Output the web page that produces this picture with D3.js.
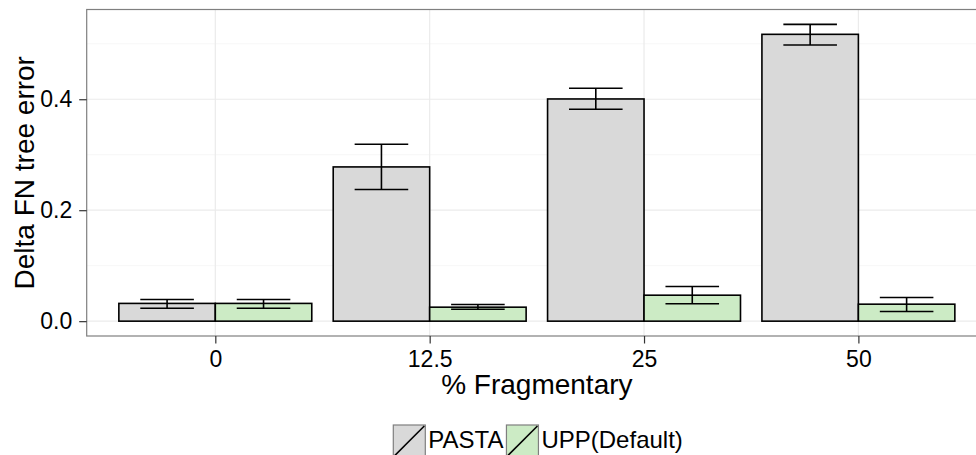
<!DOCTYPE html>
<html>
<head>
<meta charset="utf-8">
<script src="https://cdn.jsdelivr.net/npm/d3@7"></script>
<style>
  html, body { margin: 0; padding: 0; background: #fff; }
  svg { display: block; font-family: "Liberation Sans", Arial, Helvetica, sans-serif; }
</style>
</head>
<body>
<svg id="chart" width="976" height="455"></svg>
<script>
// Fragmentary-sequence levels on the x axis
const categories = ["0", "12.5", "25", "50"];
const seriesNames = ["PASTA", "UPP(Default)"];

// Mean delta FN tree error and error-bar limits per method
const pastaMean = [0.032, 0.278, 0.4005, 0.517];
const pastaLow  = [0.0234, 0.2374, 0.382, 0.4977];
const pastaHigh = [0.039, 0.319, 0.4198, 0.535];

const uppMean = [0.032, 0.0252, 0.0468, 0.0306];
const uppLow  = [0.0234, 0.0216, 0.0313, 0.0174];
const uppHigh = [0.039, 0.030, 0.0624, 0.0426];

const yTicks = [0, 0.2, 0.4];
const yMinorTicks = [0.1, 0.3, 0.5];

const fills = { "PASTA": "#d9d9d9", "UPP(Default)": "#ccebc5" };

const svg = d3.select("#chart");

const panel = { left: 86.7, right: 987, top: 9.5, bottom: 336 };

// Continuous y range with 5% expansion around [0, max upper limit]
const yMax = d3.max(pastaHigh.concat(uppHigh));
const yExp = yMax * 0.05;
const y = d3.scaleLinear()
  .domain([-yExp, yMax + yExp])
  .range([panel.bottom, panel.top]);

// Discrete x positions with 0.6-step padding on each side
const x = d3.scalePoint()
  .domain(categories)
  .range([panel.left, panel.right])
  .padding(0.6);
const step = x.step();

// Dodge within each category: total width 0.9 step
const xDodge = d3.scaleBand()
  .domain(seriesNames)
  .range([-0.45 * step, 0.45 * step]);

const rows = [];
categories.forEach((c, i) => {
  rows.push({ cat: c, series: "PASTA", mean: pastaMean[i], lo: pastaLow[i], hi: pastaHigh[i] });
  rows.push({ cat: c, series: "UPP(Default)", mean: uppMean[i], lo: uppLow[i], hi: uppHigh[i] });
});

// Panel background
svg.append("rect")
  .attr("x", panel.left).attr("y", panel.top)
  .attr("width", panel.right - panel.left)
  .attr("height", panel.bottom - panel.top)
  .attr("fill", "#fff");

// Grid lines
const grid = svg.append("g");
grid.selectAll(".minor").data(yMinorTicks).join("line")
  .attr("x1", panel.left).attr("x2", panel.right)
  .attr("y1", d => y(d)).attr("y2", d => y(d))
  .attr("stroke", "#f7f7f7").attr("stroke-width", 1);
grid.selectAll(".majorY").data(yTicks).join("line")
  .attr("x1", panel.left).attr("x2", panel.right)
  .attr("y1", d => y(d)).attr("y2", d => y(d))
  .attr("stroke", "#ebebeb").attr("stroke-width", 1.2);
grid.selectAll(".majorX").data(categories).join("line")
  .attr("x1", d => x(d)).attr("x2", d => x(d))
  .attr("y1", panel.top).attr("y2", panel.bottom)
  .attr("stroke", "#ebebeb").attr("stroke-width", 1.2);

// Bars
svg.append("g").selectAll("rect").data(rows).join("rect")
  .attr("x", d => x(d.cat) + xDodge(d.series))
  .attr("width", xDodge.bandwidth())
  .attr("y", d => y(d.mean))
  .attr("height", d => y(0) - y(d.mean))
  .attr("fill", d => fills[d.series])
  .attr("stroke", "#000")
  .attr("stroke-width", 1.6);

// Error bars (width 0.25 step)
const ebHalf = 0.125 * step;
const eb = svg.append("g").selectAll("g").data(rows).join("g")
  .attr("transform", d => `translate(${x(d.cat) + xDodge(d.series) + xDodge.bandwidth() / 2},0)`)
  .attr("stroke", "#000").attr("stroke-width", 1.6);
eb.append("line").attr("x1", 0).attr("x2", 0)
  .attr("y1", d => y(d.lo)).attr("y2", d => y(d.hi));
eb.append("line").attr("x1", -ebHalf).attr("x2", ebHalf)
  .attr("y1", d => y(d.lo)).attr("y2", d => y(d.lo));
eb.append("line").attr("x1", -ebHalf).attr("x2", ebHalf)
  .attr("y1", d => y(d.hi)).attr("y2", d => y(d.hi));

// Panel border
svg.append("rect")
  .attr("x", panel.left).attr("y", panel.top)
  .attr("width", panel.right - panel.left)
  .attr("height", panel.bottom - panel.top)
  .attr("fill", "none").attr("stroke", "#7f7f7f").attr("stroke-width", 1.2);

// Axes
const yAxis = d3.axisLeft(y).tickValues(yTicks).tickFormat(d3.format(".1f"))
  .tickSize(7.5).tickPadding(7);
const gy = svg.append("g").attr("transform", `translate(${panel.left},0)`).call(yAxis);
gy.select(".domain").remove();
gy.selectAll(".tick line").attr("stroke", "#333").attr("stroke-width", 1.2);
gy.selectAll(".tick text").attr("font-size", 23).attr("fill", "#000")
  .attr("font-family", "Liberation Sans, Arial, sans-serif");

const xAxis = d3.axisBottom(x).tickSize(7.5).tickPadding(7);
const gx = svg.append("g").attr("transform", `translate(0,${panel.bottom})`).call(xAxis);
gx.select(".domain").remove();
gx.selectAll(".tick line").attr("stroke", "#333").attr("stroke-width", 1.2);
gx.selectAll(".tick text").attr("font-size", 23).attr("fill", "#000")
  .attr("font-family", "Liberation Sans, Arial, sans-serif");

// Axis titles
svg.append("text")
  .attr("x", (panel.left + panel.right) / 2).attr("y", 394)
  .attr("text-anchor", "middle").attr("font-size", 28).attr("fill", "#000")
  .text("% Fragmentary");

svg.append("text")
  .attr("transform", `translate(33.5,${(panel.top + panel.bottom) / 2}) rotate(-90)`)
  .attr("text-anchor", "middle").attr("font-size", 28).attr("fill", "#000")
  .text("Delta FN tree error");

// Legend along the bottom
const legend = svg.append("g");
const keySize = 32;
const legendTop = 425;
let lx = 393.3;
seriesNames.forEach(name => {
  const g = legend.append("g").attr("transform", `translate(${lx},${legendTop})`);
  g.append("rect").attr("width", keySize).attr("height", keySize)
    .attr("fill", fills[name]).attr("stroke", "#7f7f7f").attr("stroke-width", 1.2);
  g.append("line").attr("x1", 1).attr("y1", keySize - 1).attr("x2", keySize - 1).attr("y2", 1)
    .attr("stroke", "#000").attr("stroke-width", 1.6);
  const t = g.append("text").attr("x", keySize + 3).attr("y", 23)
    .attr("font-size", 24).attr("fill", "#000").text(name);
  lx += keySize + 3 + t.node().getComputedTextLength() + 3;
});
</script>
</body>
</html>
